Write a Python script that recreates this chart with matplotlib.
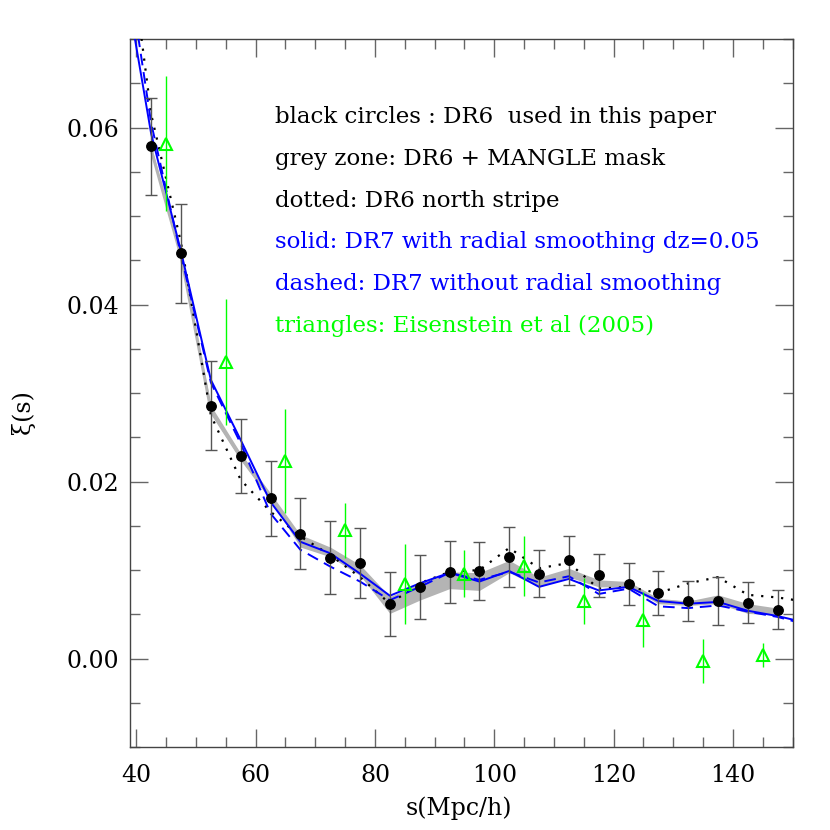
import matplotlib
matplotlib.use("Agg")
import matplotlib.pyplot as plt
from matplotlib.ticker import MultipleLocator

# ---------------- data ----------------
# DR6 black circles
s_dr6 = [42.5, 47.5, 52.5, 57.5, 62.5, 67.5, 72.5, 77.5, 82.5, 87.5, 92.5,
         97.5, 102.5, 107.5, 112.5, 117.5, 122.5, 127.5, 132.5, 137.5, 142.5, 147.5]
xi_dr6 = [0.0579, 0.0458, 0.0286, 0.0229, 0.0181, 0.0141, 0.0114, 0.0108, 0.0062, 0.0081, 0.0098,
          0.0099, 0.0115, 0.0096, 0.0111, 0.0094, 0.0084, 0.0074, 0.0065, 0.0065, 0.0063, 0.0055]
err_dr6 = [0.0055, 0.0056, 0.0050, 0.0042, 0.0042, 0.0040, 0.0041, 0.0040, 0.0036, 0.0036, 0.0035,
           0.0033, 0.0034, 0.0027, 0.0028, 0.0024, 0.0024, 0.0025, 0.0023, 0.0027, 0.0023, 0.0022]

# grey zone: DR6 + MANGLE mask (lower / upper edge)
grey_lo = [0.0571, 0.0451, 0.0276, 0.0224, 0.0179, 0.0126, 0.0115, 0.0094, 0.0051, 0.0066, 0.0079,
           0.0077, 0.0097, 0.0081, 0.0092, 0.0081, 0.0081, 0.0062, 0.0060, 0.0062, 0.0051, 0.0049]
grey_hi = [0.0579, 0.0459, 0.0286, 0.0232, 0.0187, 0.0140, 0.0126, 0.0106, 0.0070, 0.0085, 0.0098,
           0.0097, 0.0111, 0.0092, 0.0102, 0.0089, 0.0087, 0.0068, 0.0065, 0.0072, 0.0062, 0.0057]

# line curves (first / last bins fall outside the frame)
s_lines = [37.5, 42.5, 47.5, 52.5, 57.5, 62.5, 67.5, 72.5, 77.5, 82.5, 87.5, 92.5,
           97.5, 102.5, 107.5, 112.5, 117.5, 122.5, 127.5, 132.5, 137.5, 142.5, 147.5, 152.5]
xi_north = [0.088, 0.0615, 0.0470, 0.0275, 0.0202, 0.0166, 0.0138, 0.0117, 0.0092, 0.0062, 0.0085, 0.0098,
            0.0100, 0.0125, 0.0102, 0.0108, 0.0079, 0.0081, 0.0074, 0.0085, 0.0092, 0.0072, 0.0069, 0.0064]
xi_dr7_smooth = [0.079, 0.0593, 0.0460, 0.0315, 0.0247, 0.0177, 0.0132, 0.0119, 0.0096, 0.0071, 0.0085, 0.0097,
                 0.0087, 0.0099, 0.0081, 0.0090, 0.0077, 0.0081, 0.0065, 0.0062, 0.0064, 0.0054, 0.0048, 0.0040]
xi_dr7_nosmooth = [0.083, 0.0605, 0.0456, 0.0312, 0.0243, 0.0164, 0.0123, 0.0104, 0.0087, 0.0066, 0.0081, 0.0097,
                   0.0089, 0.0098, 0.0086, 0.0093, 0.0073, 0.0079, 0.0059, 0.0057, 0.0060, 0.0053, 0.0047, 0.0038]

# Eisenstein et al (2005) triangles
s_eis = [45, 55, 65, 75, 85, 95, 105, 115, 125, 135, 145]
xi_eis = [0.0582, 0.0335, 0.0223, 0.0145, 0.0084, 0.0096, 0.0105, 0.0065, 0.0044, -0.0003, 0.0004]
err_eis = [0.0076, 0.0071, 0.0059, 0.0031, 0.0045, 0.0027, 0.0034, 0.0026, 0.0031, 0.0025, 0.0014]

legend_lines = [
    ("black circles : DR6  used in this paper", "black"),
    ("grey zone: DR6 + MANGLE mask", "black"),
    ("dotted: DR6 north stripe", "black"),
    ("solid: DR7 with radial smoothing dz=0.05", "#0000ff"),
    ("dashed: DR7 without radial smoothing", "#0000ff"),
    ("triangles: Eisenstein et al (2005)", "#00ff00"),
]

# ---------------- figure ----------------
plt.rcParams['font.family'] = ['DejaVu Serif']
fig = plt.figure(figsize=(8.3, 8.3), dpi=100)
ax = fig.add_axes([0.157, 0.10, 0.798, 0.8527])

# grey zone
ax.fill_between(s_dr6, grey_lo, grey_hi, color="#b4b4b4", lw=0, zorder=1)
ax.plot(s_dr6, [(a + b) / 2 for a, b in zip(grey_lo, grey_hi)], color="#b4b4b4", lw=2.2, zorder=1)

# curves
ax.plot(s_lines, xi_north, color="black", lw=1.6, ls=(0, (1, 3.5)), zorder=3)
ax.plot(s_lines, xi_dr7_nosmooth, color="#0000ff", lw=1.4, ls=(0, (6, 3.5)), zorder=4)
ax.plot(s_lines, xi_dr7_smooth, color="#0000ff", lw=1.4, zorder=4)

# DR6 points
ax.errorbar(s_dr6, xi_dr6, yerr=err_dr6, fmt='o', color="black", ms=6.8,
            ecolor="#555555", elinewidth=1.0, capsize=4, capthick=1.0, zorder=5)

# Eisenstein triangles
ax.errorbar(s_eis, xi_eis, yerr=err_eis, fmt='^', mfc='none', mec="#00ff00", ms=9, mew=1.5,
            ecolor="#00ff00", elinewidth=1.0, capsize=0, zorder=6)

ax.set_xlim(39, 150)
ax.set_ylim(-0.01, 0.07)
ax.xaxis.set_major_locator(MultipleLocator(20))
ax.xaxis.set_minor_locator(MultipleLocator(5))
ax.yaxis.set_major_locator(MultipleLocator(0.02))
ax.yaxis.set_minor_locator(MultipleLocator(0.005))
ax.yaxis.set_major_formatter(plt.FuncFormatter(lambda v, p: f"{v:.2f}"))
ax.tick_params(which='both', direction='in', top=True, right=True, color="#666666", labelsize=17)
ax.tick_params(which='major', length=13, width=1.0)
ax.tick_params(which='minor', length=7, width=1.0)
ax.tick_params(axis='x', pad=12)
ax.tick_params(axis='y', pad=8)
for sp in ax.spines.values():
    sp.set_color("#444444")
    sp.set_linewidth(1.0)

ax.set_xlabel("s(Mpc/h)", fontsize=17)
ax.xaxis.set_label_coords(0.496, -0.07)
ax.set_ylabel("ξ(s)", fontsize=17)
ax.yaxis.set_label_coords(-0.144, 0.473)

# legend text
y0 = 0.881
for i, (txt, col) in enumerate(legend_lines):
    ax.text(0.218, y0 - i * 0.0588, txt, color=col, fontsize=16.5,
            transform=ax.transAxes, va='baseline', ha='left')

fig.savefig("out.png", dpi=100)
